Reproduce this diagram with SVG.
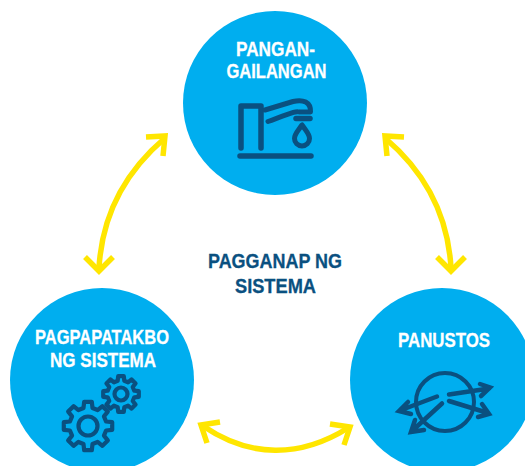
<svg xmlns="http://www.w3.org/2000/svg" width="525" height="466" viewBox="0 0 525 466">
<style>
.c{fill:#00aeef}
.t{font-family:"Liberation Sans",Arial,sans-serif;font-weight:700;font-size:20px;fill:#fff;stroke:#fff;stroke-width:.3}
.h{fill:#0a5080;stroke:#0a5080}
.i{fill:none;stroke:#0a5080;stroke-width:5.500;stroke-linecap:round;stroke-linejoin:round}
.p{fill:none;stroke:#0a5080;stroke-width:4.500;stroke-linecap:round;stroke-linejoin:miter}
.g{fill:none;stroke:#0a5080;stroke-width:4.200;stroke-linejoin:round;vector-effect:non-scaling-stroke}
.a{fill:none;stroke:#ffe600;stroke-width:5.500}
</style>
<defs>
<path id="gear" class="g" d="M.737-.184L.988-.156L.988.156L.737.184L.651.391L.809.588L.588.809L.391.651L.184.737L.156.988L-.156.988L-.184.737L-.391.651L-.588.809L-.809.588L-.651.391L-.737.184L-.988.156L-.988-.156L-.737-.184L-.651-.391L-.809-.588L-.588-.809L-.391-.651L-.184-.737L-.156-.988L.156-.988L.184-.737L.391-.651L.588-.809L.809-.588L.651-.391Z"/>
</defs>
<g id="connectors">
<path class="a" d="M165 138C125 172 102 215 99 268"/>
<path class="a" d="M146 137L165 136L163 156M85 257L99 271L113 257"/>
<path class="a" d="M385 138C425 172 448 215 451 268"/>
<path class="a" d="M404 137L385 136L387 156M437 257L451 271L465 257"/>
<path class="a" d="M203 426C250 458 300 458 348 428"/>
<path class="a" d="M220 422L201 425L207 443M330 424L350 427L344 445"/>
</g>
<g id="node-pangangailangan">
<circle class="c" cx="275" cy="103" r="92"/>
<text class="t" x="236" y="55.500" textLength="79" lengthAdjust="spacingAndGlyphs">PANGAN-</text>
<text class="t" x="226.500" y="78" textLength="100" lengthAdjust="spacingAndGlyphs">GAILANGAN</text>
<path class="i" d="M241 148V106H261V148"/>
<path class="i" d="M240 156H311"/>
<path class="i" style="stroke-width:5" d="M265 110L293 101.500C303 99 311 102 310.500 112H299C296 111 294 112 268 121.500"/>
<path class="i" d="M296 118.500H310"/>
<path class="i" style="stroke-width:5" d="M302 125C298 131 294.500 134 294.500 138.500A7.500 7.500 0 0 0 309.500 138.500C309.500 134 306 131 302 125Z"/>
</g>
<g id="node-pagpapatakbo">
<circle class="c" cx="102" cy="380" r="92"/>
<text class="t" x="35" y="343.500" textLength="134" lengthAdjust="spacingAndGlyphs">PAGPAPATAKBO</text>
<text class="t" x="50" y="367" textLength="106" lengthAdjust="spacingAndGlyphs">NG SISTEMA</text>
<use href="#gear" transform="translate(88 426) scale(24.500)"/>
<circle class="i" style="stroke-width:4.200" cx="88" cy="426" r="9.500"/>
<use href="#gear" transform="translate(121 394) scale(18)"/>
<circle class="i" style="stroke-width:4.200" cx="121" cy="394" r="6.500"/>
</g>
<g id="node-panustos">
<circle class="c" cx="442" cy="380" r="92"/>
<text class="t" x="398" y="347" textLength="92" lengthAdjust="spacingAndGlyphs">PANUSTOS</text>
<circle class="i" style="stroke-width:4" cx="445" cy="402" r="29"/>
<path class="p" d="M449 394.500L489 388.500M480 384L490 387.500L481 396"/>
<path class="p" d="M449 401L488 413M482 404L489 414L478 417"/>
<path class="p" d="M437 396.500L400 410.500M408 402L399 411L411 414"/>
<path class="p" d="M442 403.500L412 431M415 420L411 432L424 430"/>
</g>
<g id="label-center">
<text class="t h" x="208" y="267.500" textLength="134" lengthAdjust="spacingAndGlyphs">PAGGANAP NG</text>
<text class="t h" x="235" y="292.500" textLength="81" lengthAdjust="spacingAndGlyphs">SISTEMA</text>
</g>
</svg>
